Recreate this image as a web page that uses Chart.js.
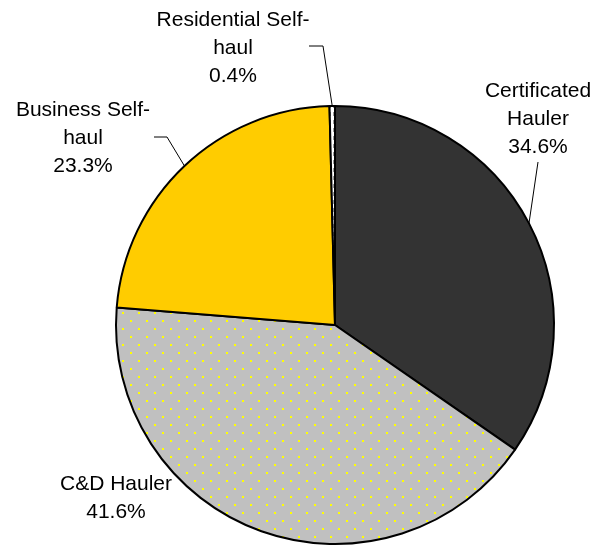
<!DOCTYPE html>
<html>
<head>
<meta charset="utf-8">
<script src="https://cdn.jsdelivr.net/npm/chart.js@4/dist/chart.umd.min.js"></script>
<style>
html,body{margin:0;padding:0;background:#fff;}
#c{display:block;}
</style>
</head>
<body>
<canvas id="c" width="608" height="546"></canvas>
<script>
// ---- data ----
const categories = ['Certificated Hauler', 'C&D Hauler', 'Business Self-haul', 'Residential Self-haul'];
const shares = [34.6, 41.6, 23.3, 0.4];
const labelLines = [['Certificated', 'Hauler'], ['C&D Hauler'], ['Business Self-', 'haul'], ['Residential Self-', 'haul']];

// ---- styles ----
function dotPattern() {
  const p = document.createElement('canvas');
  p.width = 16; p.height = 16;
  const g = p.getContext('2d');
  g.fillStyle = '#C0C0C0'; g.fillRect(0, 0, 16, 16);
  g.fillStyle = '#FFFF00';
  g.fillRect(2, 0, 2, 2);
  g.fillRect(10, 8, 2, 2);
  return document.getElementById('c').getContext('2d').createPattern(p, 'repeat');
}
function dashPattern() {
  const p = document.createElement('canvas');
  p.width = 4; p.height = 8;
  const g = p.getContext('2d');
  g.fillStyle = '#FFFFFF'; g.fillRect(0, 0, 4, 8);
  g.fillStyle = '#9A9A9A';
  g.fillRect(1, 0, 2, 4);
  return document.getElementById('c').getContext('2d').createPattern(p, 'repeat');
}
const fills = ['#333333', dotPattern(), '#FFCC00', dashPattern()];

// label layout: centre x, first baseline y (relative to pie centre), leader start points
const labelLayout = [
  {dx: 203, dy: -228, leader: [[203, -163]]},
  {dx: -219, dy: 165, leader: null},
  {dx: -252, dy: -209, leader: [[-181, -188], [-168, -188]]},
  {dx: -102, dy: -299, leader: [[-26, -279], [-12, -279]]}
];

const labelPlugin = {
  id: 'pieLabels',
  afterDatasetsDraw(chart) {
    const ctx = chart.ctx;
    const meta = chart.getDatasetMeta(0);
    ctx.save();
    ctx.font = '21px "Liberation Sans", Arial, sans-serif';
    ctx.fillStyle = '#000';
    ctx.textAlign = 'center';
    ctx.textBaseline = 'alphabetic';
    meta.data.forEach((arc, i) => {
      const cx = arc.x, cy = arc.y;
      const L = labelLayout[i];
      const lines = labelLines[i].concat([shares[i].toFixed(1) + '%']);
      lines.forEach((t, k) => ctx.fillText(t, cx + L.dx, cy + L.dy + k * 28));
      if (L.leader) {
        const mid = (arc.startAngle + arc.endAngle) / 2;
        const ex = cx + Math.cos(mid) * arc.outerRadius;
        const ey = cy + Math.sin(mid) * arc.outerRadius;
        ctx.beginPath();
        ctx.strokeStyle = '#000';
        ctx.lineWidth = 1;
        L.leader.forEach((pt, k) => {
          const x = cx + pt[0], y = cy + pt[1];
          if (k === 0) ctx.moveTo(x, y); else ctx.lineTo(x, y);
        });
        ctx.lineTo(ex, ey);
        ctx.stroke();
      }
    });
    ctx.restore();
  }
};

new Chart(document.getElementById('c'), {
  type: 'pie',
  data: {
    labels: categories,
    datasets: [{
      data: shares,
      backgroundColor: fills,
      borderColor: '#000000',
      borderWidth: 2
    }]
  },
  options: {
    responsive: false,
    animation: false,
    radius: 219,
    layout: {padding: {left: 62, right: 0, top: 104, bottom: 0}},
    plugins: {
      legend: {display: false},
      tooltip: {enabled: false}
    }
  },
  plugins: [labelPlugin]
});
</script>
</body>
</html>
